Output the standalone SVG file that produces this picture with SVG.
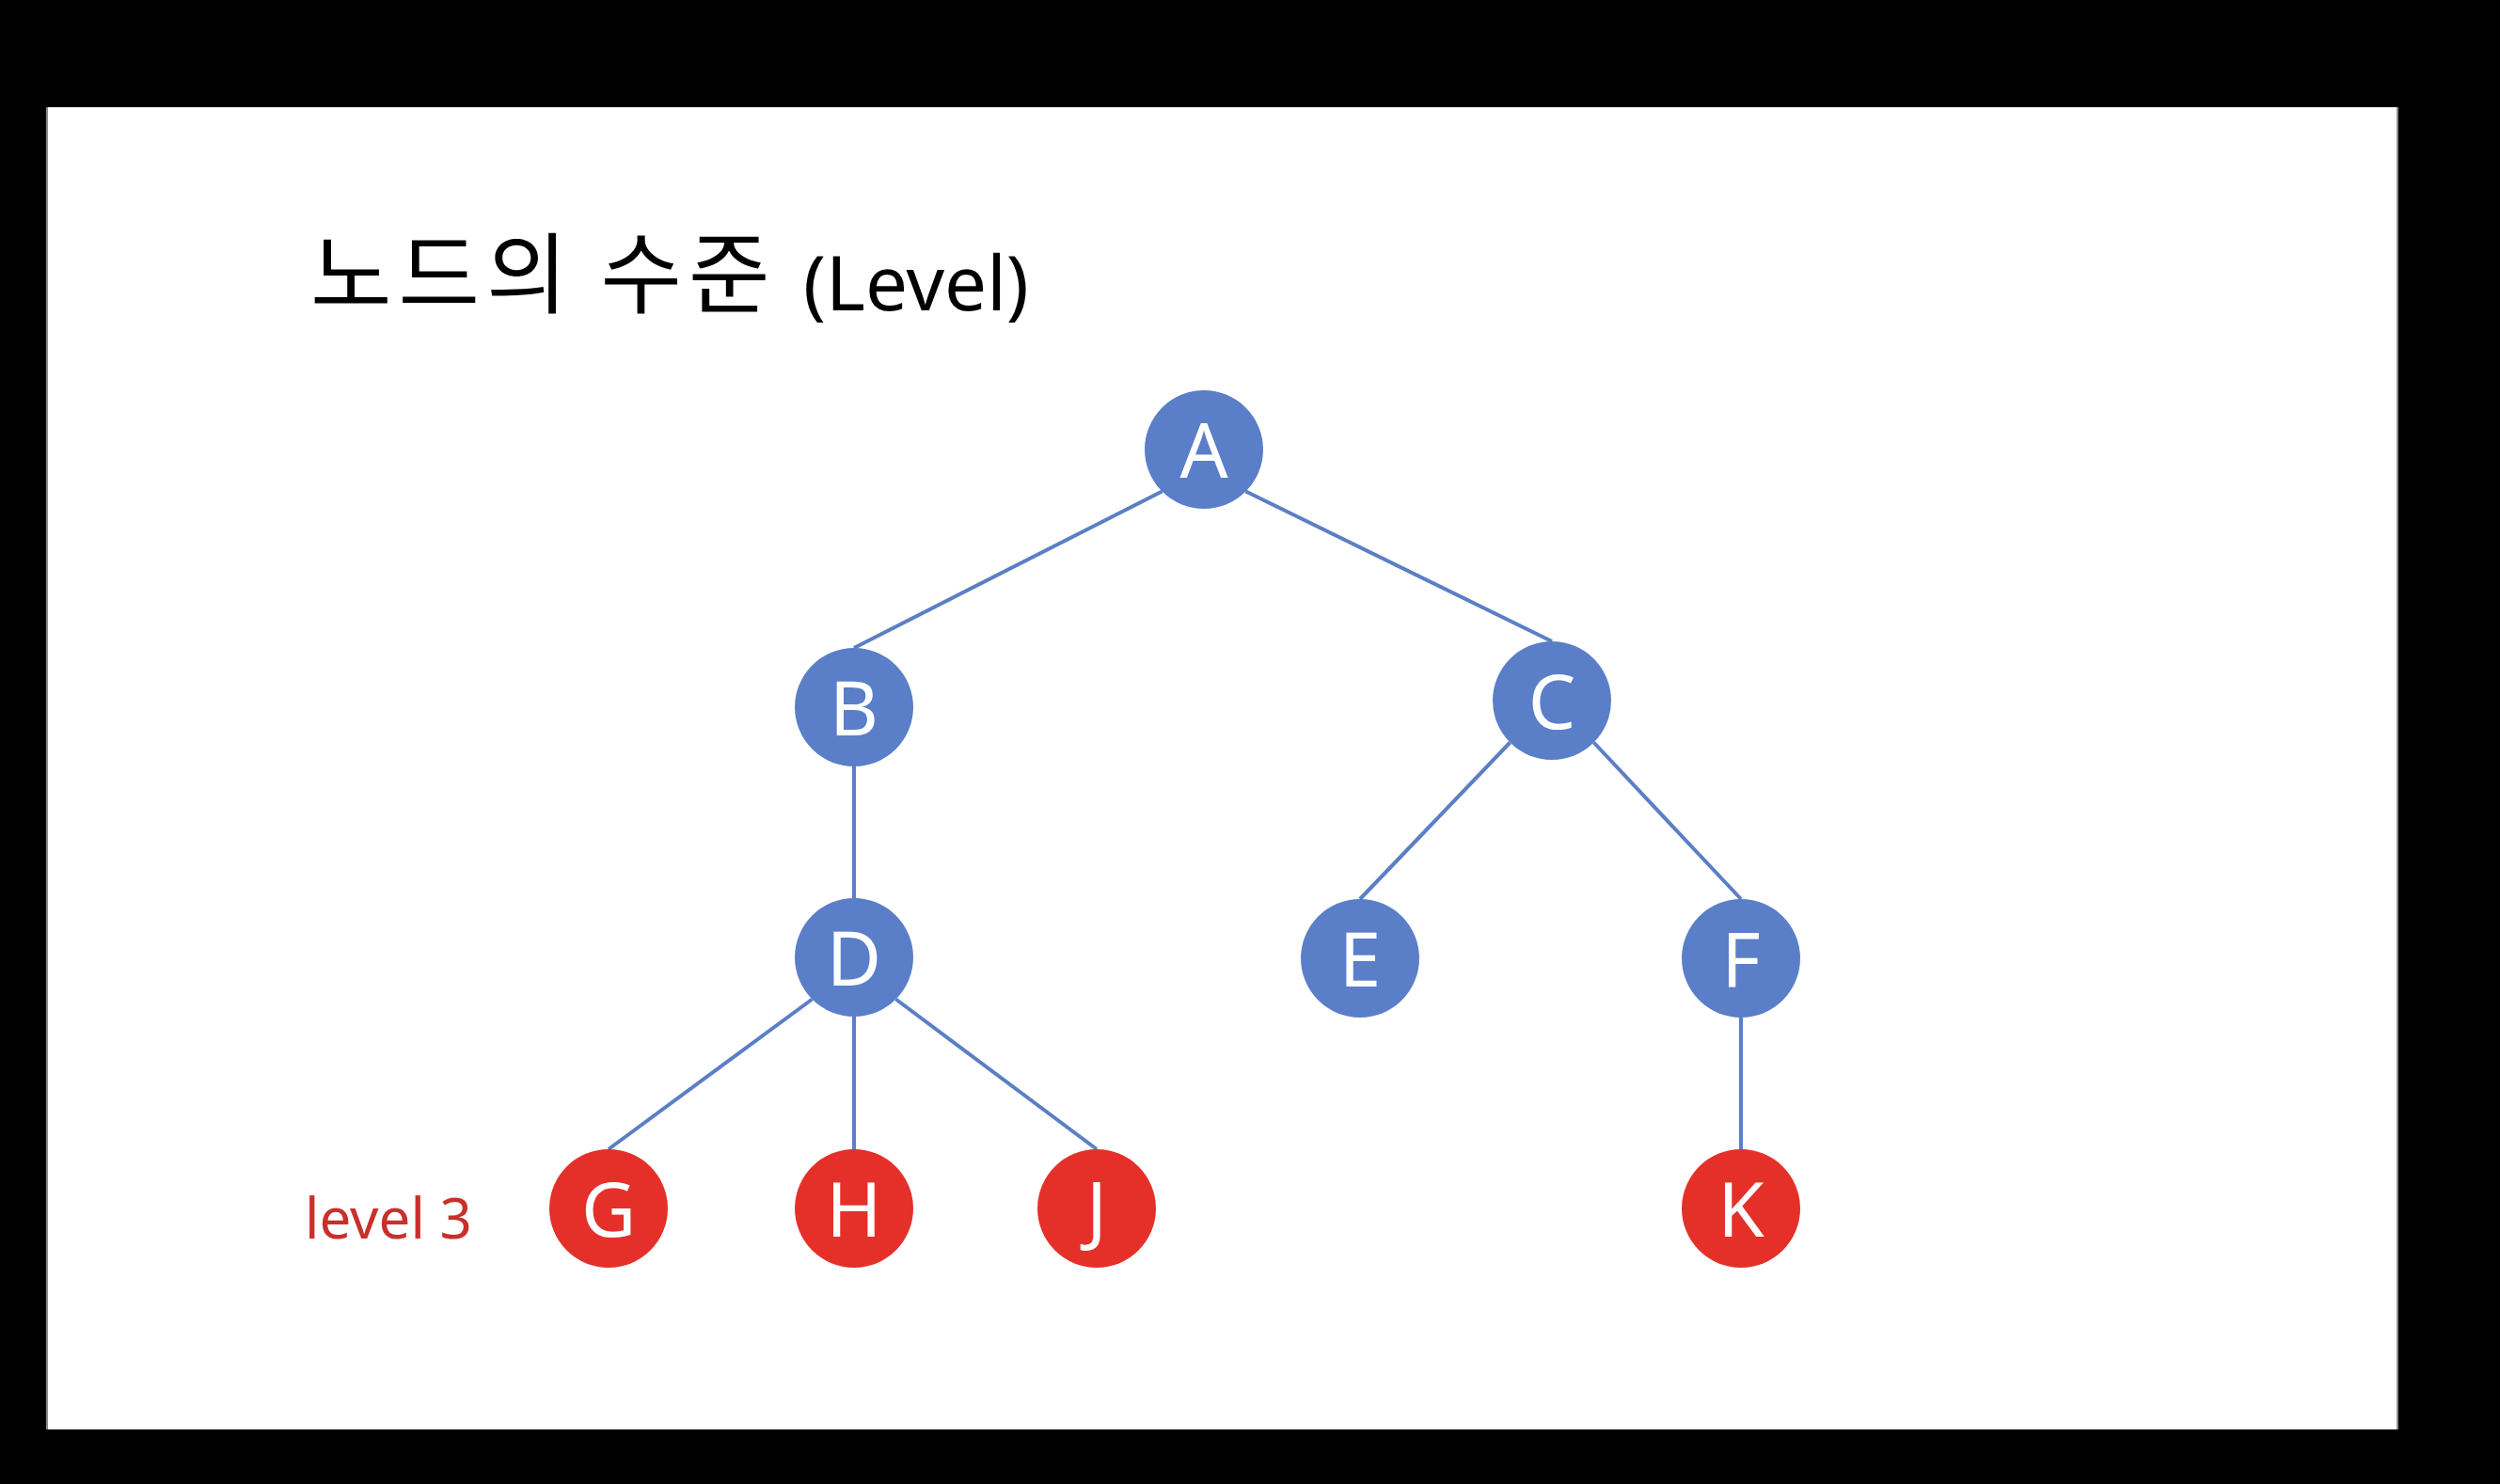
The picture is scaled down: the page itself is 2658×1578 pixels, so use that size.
<svg xmlns="http://www.w3.org/2000/svg" width="2658" height="1578" viewBox="0 0 2658 1578">
  <style>
    .edge { stroke: #5B7FC5; stroke-width: 4; fill: none; }
    .blue { fill: #5A7FC8; }
    .red { fill: #E5302A; }
    .label { font-family: "Noto Sans", "Open Sans", sans-serif; font-size: 80px; fill: #FFFFFF; text-anchor: middle; }
    .title { font-family: "Noto Sans CJK KR", "Noto Sans", sans-serif; font-size: 94px; letter-spacing: 7px; fill: #000000; }
    .title-latin { font-family: "Noto Sans", "Open Sans", sans-serif; font-size: 80px; letter-spacing: 0; }
    .level { font-family: "Noto Sans", "Open Sans", sans-serif; font-size: 60px; fill: #C9302C; }
  </style>

  <!-- slide on black backdrop -->
  <rect x="0" y="0" width="2658" height="1578" fill="#000000"/>
  <rect x="50" y="114" width="2500" height="1406" fill="#FFFFFF"/>
  <line x1="50" y1="114" x2="50" y2="1520" stroke="#8A8A8A" stroke-width="2"/>
  <line x1="2549" y1="114" x2="2549" y2="1520" stroke="#8A8A8A" stroke-width="2"/>

  <!-- title -->
  <text class="title" x="330" y="326">노드의 수준<tspan class="title-latin" x="854" y="330">(Level)</tspan></text>

  <!-- level caption -->
  <text class="level" x="324" y="1317">level 3</text>

  <!-- connectors -->
  <g id="edges">
    <line class="edge" x1="1235.5" y1="522.5" x2="908" y2="689"/>
    <line class="edge" x1="1324.5" y1="522.5" x2="1650" y2="682"/>
    <line class="edge" x1="908" y1="815" x2="908" y2="955"/>
    <line class="edge" x1="1605.5" y1="789.5" x2="1446" y2="956"/>
    <line class="edge" x1="1694.5" y1="789.5" x2="1851" y2="956"/>
    <line class="edge" x1="863.5" y1="1062.5" x2="647" y2="1222"/>
    <line class="edge" x1="908" y1="1081" x2="908" y2="1222"/>
    <line class="edge" x1="952.5" y1="1062.5" x2="1166" y2="1222"/>
    <line class="edge" x1="1851" y1="1082" x2="1851" y2="1222"/>
  </g>

  <!-- nodes -->
  <g id="node-A"><circle class="blue" cx="1280" cy="478" r="63"/><text class="label" x="1280" y="508">A</text></g>
  <g id="node-B"><circle class="blue" cx="908" cy="752" r="63"/><text class="label" x="908" y="782">B</text></g>
  <g id="node-C"><circle class="blue" cx="1650" cy="745" r="63"/><text class="label" x="1650" y="775">C</text></g>
  <g id="node-D"><circle class="blue" cx="908" cy="1018" r="63"/><text class="label" x="908" y="1048">D</text></g>
  <g id="node-E"><circle class="blue" cx="1446" cy="1019" r="63"/><text class="label" x="1446" y="1049">E</text></g>
  <g id="node-F"><circle class="blue" cx="1851" cy="1019" r="63"/><text class="label" x="1851" y="1049">F</text></g>
  <g id="node-G"><circle class="red" cx="647" cy="1285" r="63"/><text class="label" x="647" y="1315">G</text></g>
  <g id="node-H"><circle class="red" cx="908" cy="1285" r="63"/><text class="label" x="908" y="1315">H</text></g>
  <g id="node-J"><circle class="red" cx="1166" cy="1285" r="63"/><text class="label" x="1166" y="1315">J</text></g>
  <g id="node-K"><circle class="red" cx="1851" cy="1285" r="63"/><text class="label" x="1851" y="1315">K</text></g>
</svg>
